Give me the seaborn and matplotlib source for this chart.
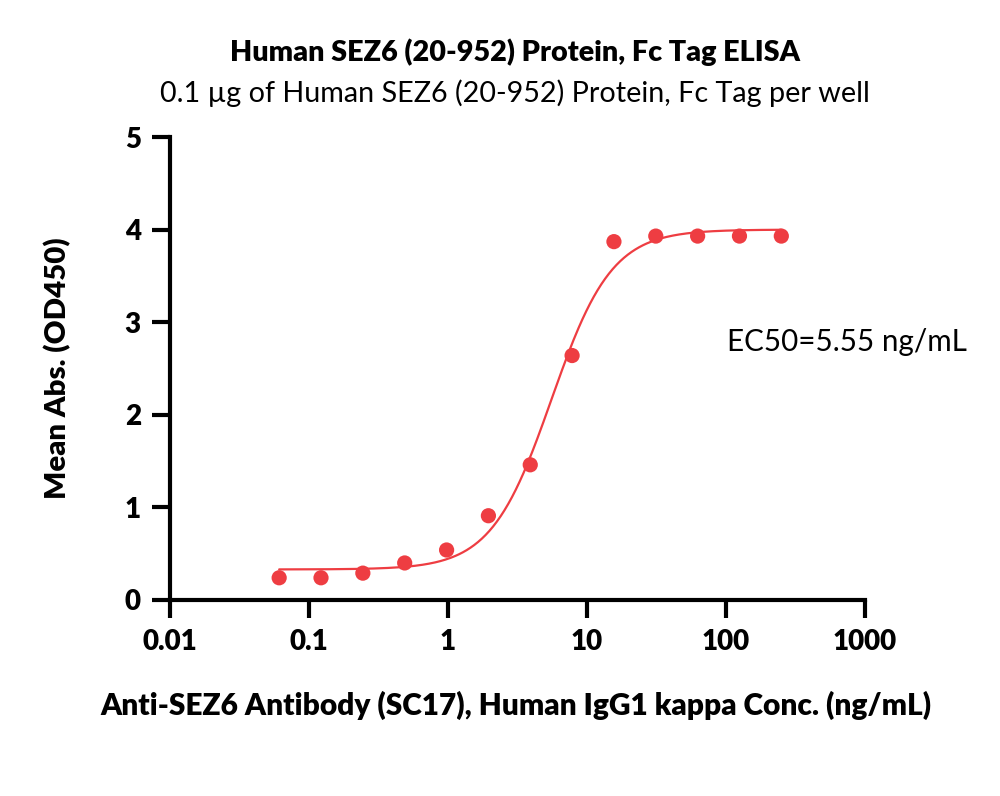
import numpy as np
import pandas as pd
import matplotlib
matplotlib.use("Agg")
import matplotlib.pyplot as plt
import seaborn as sns

# Data
conc = [0.061, 0.122, 0.244, 0.488, 0.977, 1.953, 3.906, 7.8125, 15.625, 31.25, 62.5, 125.0, 250.0]
od450 = [0.24, 0.24, 0.29, 0.40, 0.54, 0.91, 1.46, 2.64, 3.87, 3.93, 3.93, 3.93, 3.93]

# 4PL fit parameters (EC50 from chart annotation)
fit_bottom = 0.33
fit_top = 4.00
fit_ec50 = 5.55
fit_hill = 2.0

x_ticks = [0.01, 0.1, 1, 10, 100, 1000]
x_tick_labels = ["0.01", "0.1", "1", "10", "100", "1000"]
y_ticks = [0, 1, 2, 3, 4, 5]

title = "Human SEZ6 (20-952) Protein, Fc Tag ELISA"
subtitle = "0.1 \u00b5g of Human SEZ6 (20-952) Protein, Fc Tag per well"
xlabel = "Anti-SEZ6 Antibody (SC17), Human IgG1 kappa Conc. (ng/mL)"
ylabel = "Mean Abs. (OD450)"
ec50_text = "EC50=5.55 ng/mL"

red = "#EE3D42"

sns.set_theme(style="ticks")
plt.rcParams['font.family'] = ['Lato', 'DejaVu Sans']
plt.rcParams['text.color'] = 'black'
plt.rcParams['xtick.color'] = 'black'
plt.rcParams['ytick.color'] = 'black'

df = pd.DataFrame({"conc": conc, "od": od450})
xf = np.logspace(np.log10(min(conc)), np.log10(max(conc)), 400)
yf = fit_bottom + (fit_top - fit_bottom) / (1 + (fit_ec50 / xf) ** fit_hill)
dfit = pd.DataFrame({"conc": xf, "od": yf})

fig = plt.figure(figsize=(10, 7.96), dpi=100)
ax = fig.add_axes([0.17, 1 - 600 / 796, 0.695, (600 - 137) / 796])

sns.lineplot(data=dfit, x="conc", y="od", ax=ax, color=red, linewidth=1.6)
sns.scatterplot(data=df, x="conc", y="od", ax=ax, color=red, s=120, edgecolor="none", zorder=3, clip_on=False)

ax.set_xscale("log")
ax.set_xlim(0.01, 1000)
ax.set_ylim(0, 5)
ax.set_xticks(x_ticks)
ax.set_xticklabels(x_tick_labels)
ax.set_yticks(y_ticks)
ax.xaxis.set_minor_locator(matplotlib.ticker.NullLocator())
for s in ["top", "right"]:
    ax.spines[s].set_visible(False)
for s in ["left", "bottom"]:
    ax.spines[s].set_linewidth(3)
    ax.spines[s].set_color("black")
ax.tick_params(axis="both", which="major", length=13, width=3, color="black",
               labelcolor="black", labelsize=20, pad=8)
for lab in ax.get_xticklabels() + ax.get_yticklabels():
    lab.set_fontweight("heavy")
ax.set_xlabel("")
ax.set_ylabel("")

fig.text(0.515, 1 - 52 / 796, title, ha="center", va="center", fontsize=20.7, fontweight="heavy")
fig.text(0.515, 1 - 93 / 796, subtitle, ha="center", va="center", fontsize=20.7)
fig.text(0.516, 1 - 705 / 796, xlabel, ha="center", va="center", fontsize=21.5, fontweight="heavy")
fig.text(0.058, 1 - 368 / 796, ylabel, ha="center", va="center", rotation=90, fontsize=21.2, fontweight="heavy")
fig.text(0.727, 1 - 342 / 796, ec50_text, ha="left", va="center", fontsize=21.3)

fig.savefig("out.png", dpi=100, facecolor="white")
